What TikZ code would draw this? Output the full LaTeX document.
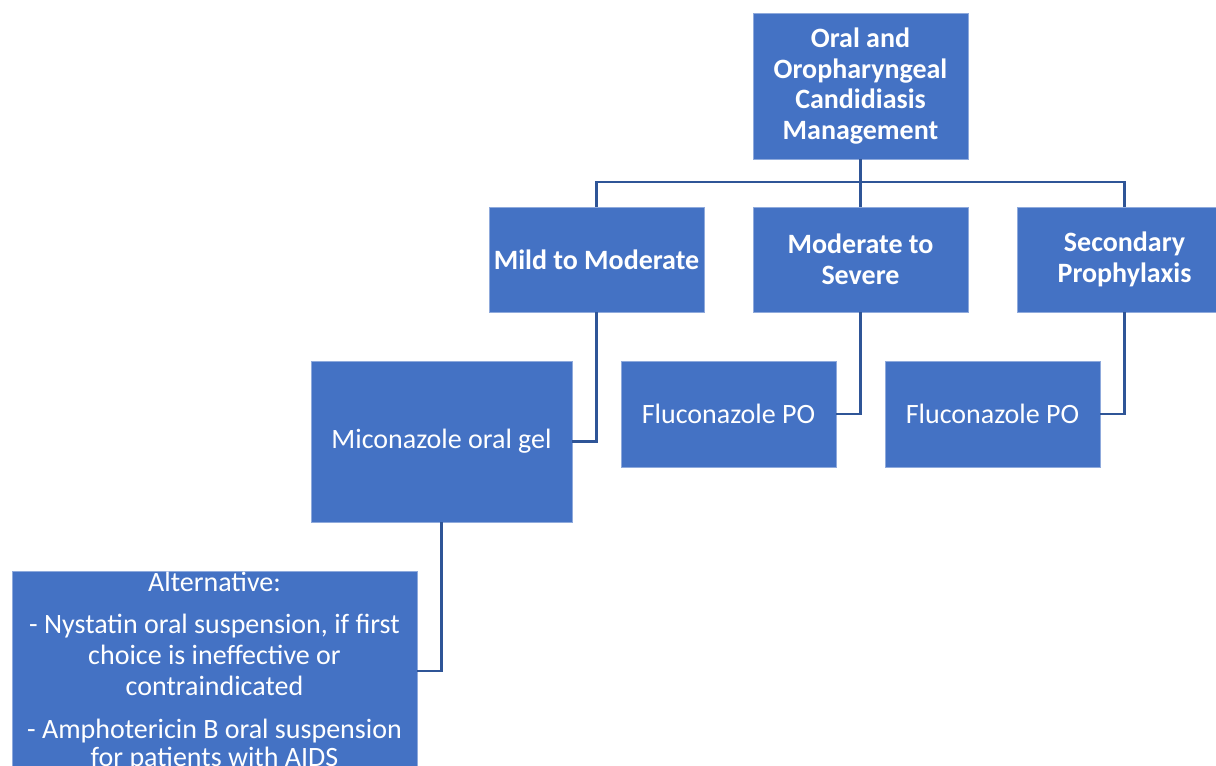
\documentclass[tikz,border=0pt]{standalone}
\usepackage{fontspec}
\setmainfont{Carlito}
\definecolor{boxblue}{HTML}{4472C4}
\definecolor{linkblue}{HTML}{2F5597}
\definecolor{edgeblue}{HTML}{8FAADC}
\begin{document}
\begin{tikzpicture}[x=1pt,y=-1pt,
  box/.style={draw=edgeblue, line width=0.6pt, fill=boxblue, text=white, align=center,
    inner sep=0pt, font=\fontsize{28}{30.5}\selectfont},
  hbox/.style={box, font=\fontsize{28}{30.5}\selectfont\bfseries},
  alttext/.style={text=white, align=center, inner sep=0pt, anchor=base, font=\fontsize{28}{31}\selectfont},
  link/.style={draw=linkblue, line width=2.6pt}]
\useasboundingbox (0,0) rectangle (1216,766);
\clip (0,0) rectangle (1216,766);
% nodes
\node[hbox, minimum width=215pt, minimum height=146pt] (top) at (860.5,86) {Oral and\\Oropharyngeal\\Candidiasis\\Management};
\node[hbox, minimum width=215pt, minimum height=105pt] (mild) at (596.5,259.5) {Mild to Moderate};
\node[hbox, minimum width=215pt, minimum height=105pt] (mod) at (860.5,259.5) {Moderate to\\Severe};
\node[hbox, minimum width=215pt, minimum height=105pt] (sec) at (1124.5,259.5) {Secondary\\Prophylaxis};
\node[box, minimum width=261pt, minimum height=161pt] (mic) at (441.5,441.5) {Miconazole oral gel};
\node[box, minimum width=215pt, minimum height=106pt] (flu1) at (728.5,414) {Fluconazole PO};
\node[box, minimum width=215pt, minimum height=106pt] (flu2) at (992.5,414) {Fluconazole PO};
\node[box, minimum width=405pt, minimum height=260pt, anchor=north] (alt) at (214.5,571) {};
\node[alttext] (altA) at (214.5,591) {Alternative:};
\node[alttext] (altB1) at (214.5,633) {- Nystatin oral suspension, if first};
\node[alttext] (altB2) at (214.5,664) {choice is ineffective or};
\node[alttext] (altB3) at (214.5,695) {contraindicated};
\node[alttext] (altC1) at (214.5,738) {- Amphotericin B oral suspension};
\node[alttext] (altC2) at (214.5,766) {for patients with AIDS};
% connectors
\coordinate (bus) at (860.5,182);
\draw[link] (top.south) -- (bus);
\draw[link] (mild.north) |- (bus) -| (sec.north);
\draw[link] (bus) -- (mod.north);
\draw[link] (mild.south) |- (mic.east);
\draw[link] (mod.south) |- (flu1.east);
\draw[link] (sec.south) |- (flu2.east);
\draw[link] (mic.south) |- (alt.east |- 0,671);
\end{tikzpicture}
\end{document}
